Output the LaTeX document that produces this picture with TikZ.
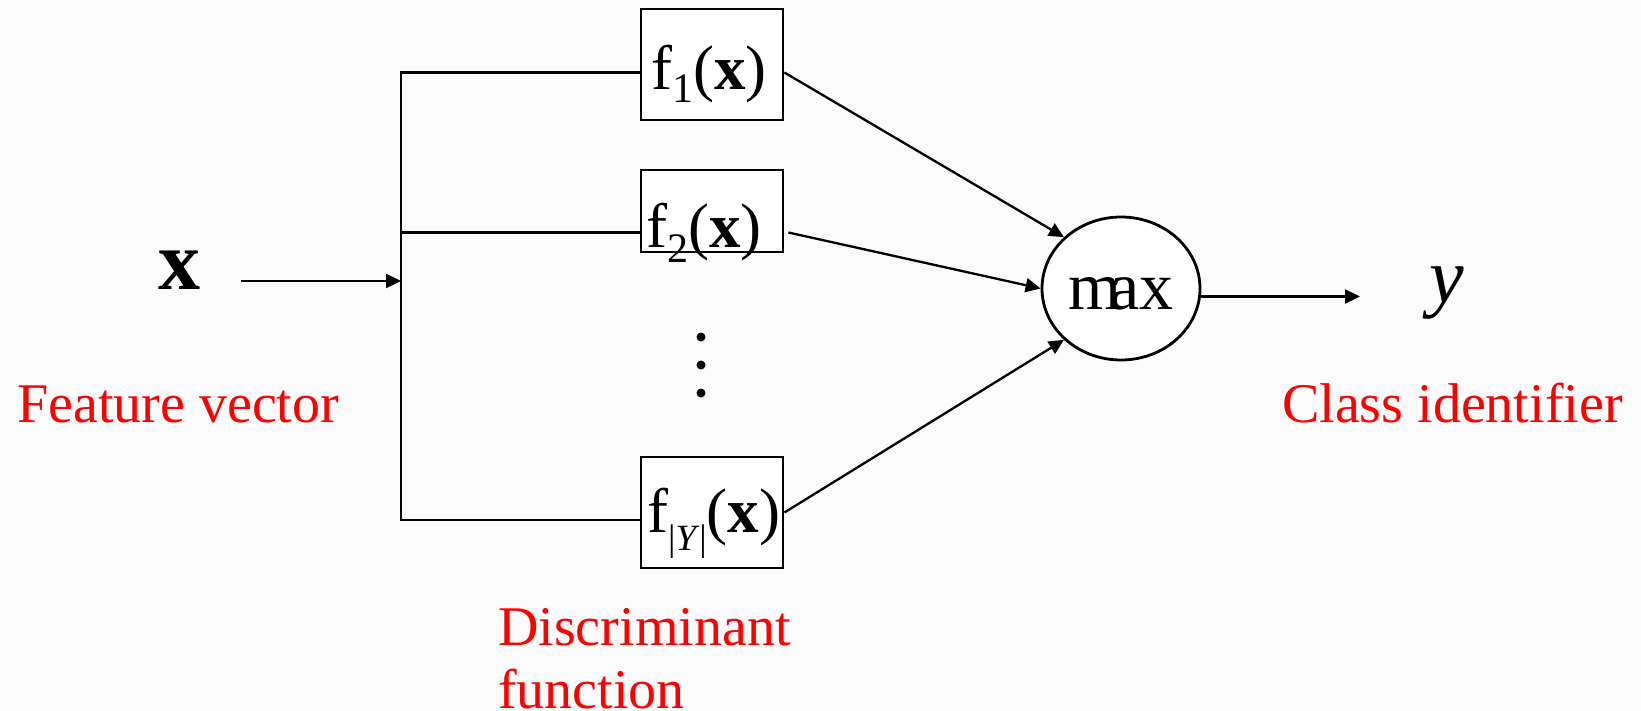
\documentclass[tikz,border=0pt]{standalone}
\usepackage{fontspec}
\setmainfont{Liberation Serif}
\usetikzlibrary{arrows.meta,shapes.geometric,calc}
\definecolor{bg}{HTML}{FBFBFB}
\definecolor{lblred}{HTML}{FF0000}
\begin{document}
\begin{tikzpicture}[x=1pt,y=-1pt,
  fbox/.style={draw,line width=2.8pt,fill=white,minimum width=142pt,inner sep=0pt},
  ftext/.style={anchor=base west,inner sep=0pt,font=\fontsize{63}{63}\selectfont},
  wire/.style={line width=2.3pt},
  arr/.style={wire,-{Triangle[length=15pt,width=14pt]}},
  redlbl/.style={anchor=base west,inner sep=0pt,text=lblred,font=\fontsize{56}{63}\selectfont,align=left},
  dotnode/.style={circle,fill=black,inner sep=0pt,minimum size=9pt}]
\fill[bg] (0,0) rectangle (1641,711);
\useasboundingbox (0,0) rectangle (1641,711);
% boxes
\node[fbox,minimum height=111pt] (b1) at (712,64.5) {};
\node[fbox,minimum height=82pt] (b2) at (712,211) {};
\node[fbox,minimum height=111pt] (b3) at (712,512.5) {};
\node[ftext] (t1) at (651,90) {f\raisebox{-13pt}{\fontsize{42}{42}\selectfont 1}(\textbf{x})};
\node[ftext] (t2) at (646,248) {f\raisebox{-15pt}{\fontsize{42}{42}\selectfont 2}(\textbf{x})};
\node[ftext] (t3) at (647,532) {f\raisebox{-18pt}{\fontsize{37}{37}\selectfont |\textit{Y}|}(\textbf{x})};
% dots
\node[dotnode] (d1) at (701,337) {};
\node[dotnode] (d2) at (701,365) {};
\node[dotnode] (d3) at (701,393) {};
% max
\node[draw,ellipse,line width=2.8pt,fill=white,minimum width=158pt,minimum height=143pt,inner sep=0pt] (m) at (1121,288.5) {};
\node[anchor=base,inner sep=0pt,font=\fontsize{68}{68}\selectfont] (mt) at (1121,309) {m\kern-12pt ax};
% x and y
\node[anchor=base,inner sep=0pt,font=\fontsize{84}{84}\selectfont\bfseries] (xin) at (179,290) {x};
\node[anchor=base,inner sep=0pt,font=\fontsize{78}{78}\selectfont\itshape] (yout) at (1447,303) {y};
% red labels
\node[redlbl] (fv) at (17,422) {Feature vector};
\node[redlbl] (ci) at (1282,422) {Class identifier};
\node[redlbl] (df) at (498,708) {Discriminant\\function};
% connectors
\coordinate (vt) at (401,72.5);
\coordinate (v2) at (401,232.5);
\coordinate (vm) at (401,281);
\coordinate (vb) at (401,520);
\coordinate (xs) at (241,281);
\coordinate (ye) at (1360,296.5);
\draw[arr] (xs) -- (vm);
\draw[wire] (vt -| b1.west) -- (vt) -- (vb) -- (vb -| b3.west);
\draw[wire] (v2) -- (v2 -| b2.west);
\draw[arr] (b1.east |- vt) -- (m.138);
\draw[arr] ($(b2.east |- v2)+(4,0)$) -- (m.180);
\draw[arr] (b3.east) -- (m.222);
\draw[arr] ($(m.east)+(0,8)$) -- (ye);
\end{tikzpicture}
\end{document}
